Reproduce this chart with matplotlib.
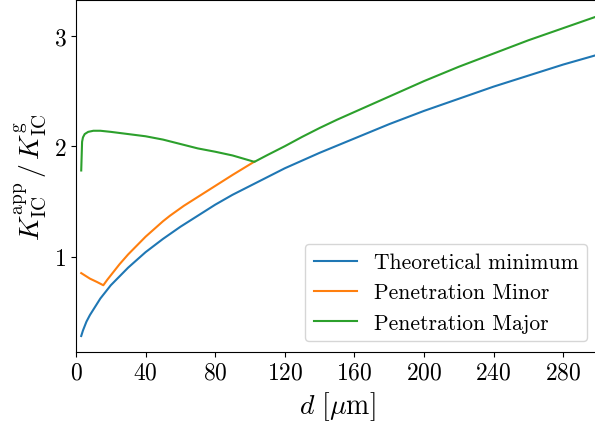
import numpy as np
import matplotlib
matplotlib.use("Agg")
import matplotlib.pyplot as plt

plt.rcParams["font.family"] = "serif"
plt.rcParams["font.serif"] = ["cmr10"]
plt.rcParams["mathtext.fontset"] = "cm"
plt.rcParams["axes.formatter.use_mathtext"] = True

# Theoretical minimum
d_min = [3, 4, 6, 8, 10, 12, 14, 16, 20, 25, 30, 40, 50, 60, 70, 80, 90,
         100, 120, 140, 160, 180, 200, 220, 240, 260, 280, 300]
k_min = [0.28, 0.33, 0.41, 0.47, 0.52, 0.57, 0.62, 0.66, 0.74, 0.82, 0.90,
         1.04, 1.16, 1.27, 1.37, 1.47, 1.56, 1.64, 1.80, 1.94, 2.07, 2.20,
         2.32, 2.43, 2.54, 2.64, 2.74, 2.83]

# Penetration minor
d_minor = [3, 8, 12, 15.7, 18, 20, 25, 30, 35, 40, 45, 50, 54, 62, 71, 80,
           90, 102.5]
k_minor = [0.85, 0.80, 0.77, 0.74, 0.79, 0.83, 0.93, 1.02, 1.10, 1.18, 1.25,
           1.32, 1.37, 1.46, 1.55, 1.64, 1.74, 1.86]

# Penetration major
d_major = [3, 3.5, 4, 5, 7, 10, 14, 20, 30, 40, 50, 60, 70, 80, 90, 100,
           102.5, 110, 120, 130, 140, 150, 160, 170, 180, 200, 220, 240, 260,
           280, 300]
k_major = [1.78, 2.04, 2.08, 2.11, 2.13, 2.14, 2.14, 2.13, 2.11, 2.09, 2.06,
           2.02, 1.98, 1.95, 1.916, 1.87, 1.858, 1.92, 2.00, 2.085, 2.165,
           2.24, 2.31, 2.38, 2.45, 2.59, 2.72, 2.84, 2.96, 3.07, 3.18]

fig = plt.figure(figsize=(5.95, 4.31), dpi=100)
ax = fig.add_axes([76 / 595, 78 / 431, 522 / 595, 352 / 431])

ax.plot(d_min, k_min, label="Theoretical minimum")
ax.plot(d_minor, k_minor, label="Penetration Minor")
ax.plot(d_major, k_major, label="Penetration Major")

ax.set_xlim(0, 300)
ax.set_xticks(np.arange(0, 281, 40))
ax.set_yticks([1, 2, 3])
ax.tick_params(labelsize=17)
ax.set_xlabel(r"$d\ [\mu\mathrm{m}]$", fontsize=20)
ax.set_ylabel(r"$K_{\mathrm{IC}}^{\mathrm{app}}\,/\,K_{\mathrm{IC}}^{\mathrm{g}}$", fontsize=20)
ax.legend(loc="lower right", fontsize=15.5)

fig.savefig("out.png", dpi=100)
